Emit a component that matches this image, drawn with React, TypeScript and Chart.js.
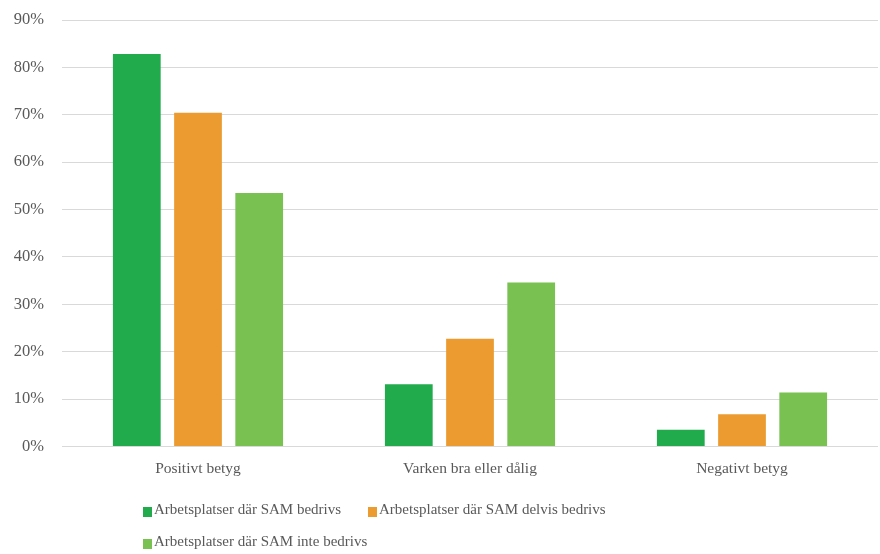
import React, { useEffect, useRef } from "react";
import { Chart, registerables } from "chart.js";

Chart.register(...registerables);

const categories = ["Positivt betyg", "Varken bra eller dålig", "Negativt betyg"];
const seriesNames = [
  "Arbetsplatser där SAM bedrivs",
  "Arbetsplatser där SAM delvis bedrivs",
  "Arbetsplatser där SAM inte bedrivs",
];
const samBedrivs = [82.8, 13.1, 3.5];
const samDelvis = [70.4, 22.7, 6.8];
const samInte = [53.5, 34.6, 11.4];
const yMax = 90;
const yStep = 10;

const colors = ["#22AB4C", "#EB9B2F", "#79C151"];
const FONT = "'Liberation Serif', 'Times New Roman', serif";
const TEXT = "#595959";

const legendPlugin = {
  id: "customLegend",
  afterDraw(chart: any) {
    const ctx = chart.ctx;
    ctx.save();
    ctx.font = `15px ${FONT}`;
    ctx.textBaseline = "middle";
    ctx.textAlign = "left";
    const startX = 143;
    const colW = 225;
    const rows = [510, 542];
    chart.data.datasets.forEach((ds: any, i: number) => {
      const col = i % 2;
      const row = Math.floor(i / 2);
      const x = startX + col * colW;
      const y = rows[row];
      ctx.fillStyle = ds.backgroundColor;
      ctx.fillRect(x, y - 3, 9, 10);
      ctx.fillStyle = TEXT;
      ctx.fillText(ds.label, x + 11, y);
    });
    ctx.restore();
  },
};

export default function App() {
  const ref = useRef<HTMLCanvasElement>(null);
  useEffect(() => {
    if (!ref.current) return;
    const chart = new Chart(ref.current, {
      type: "bar",
      data: {
        labels: categories,
        datasets: [samBedrivs, samDelvis, samInte].map((d, i) => ({
          label: seriesNames[i],
          data: d,
          backgroundColor: colors[i],
          borderWidth: 0,
          barPercentage: 0.78,
          categoryPercentage: 0.675,
        })),
      },
      options: {
        responsive: false,
        animation: false,
        layout: { padding: { top: 20, left: 0, right: 2, bottom: 63 } },
        plugins: {
          legend: { display: false },
          tooltip: { enabled: false },
        },
        scales: {
          x: {
            grid: { display: false, drawTicks: false },
            border: { display: false },
            ticks: { color: TEXT, font: { family: FONT, size: 15.5 }, padding: 13 },
          },
          y: {
            min: 0,
            max: yMax,
            grid: { color: "#D9D9D9", lineWidth: 1, drawTicks: false },
            border: { display: false },
            afterFit: (scale: any) => {
              scale.width = 62;
              scale.paddingTop = 0;
              scale.paddingBottom = 0;
            },
            ticks: {
              stepSize: yStep,
              color: TEXT,
              font: { family: FONT, size: 16.5 },
              padding: 18,
              callback: (v: any) => `${v}%`,
            },
          },
        },
      },
      plugins: [legendPlugin],
    });
    return () => chart.destroy();
  }, []);
  return (
    <div style={{ position: "fixed", left: 0, top: 0, width: 880, height: 554, background: "#fff" }}>
      <canvas ref={ref} width={880} height={554} />
    </div>
  );
}
